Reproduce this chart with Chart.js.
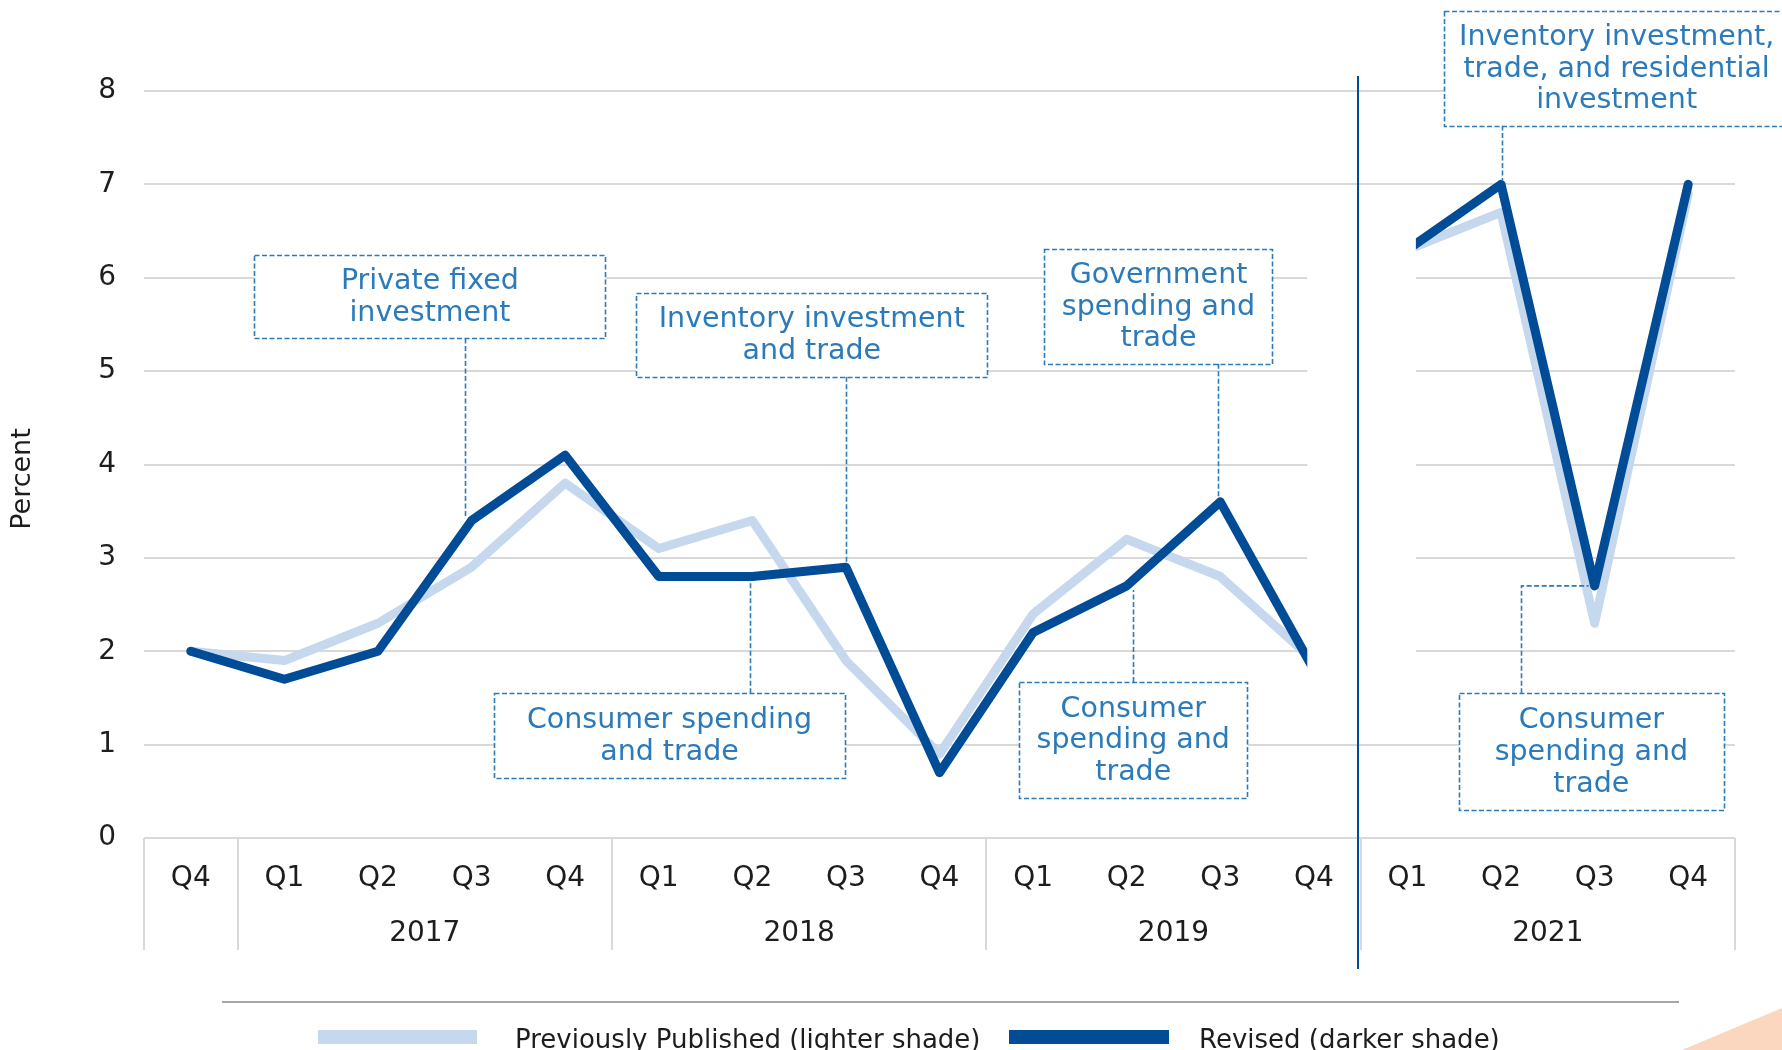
<!DOCTYPE html>
<html>
<head>
<meta charset="utf-8">
<title>Real GDP growth: previously published vs. revised</title>
<script src="https://cdn.jsdelivr.net/npm/chart.js@4.4.1/dist/chart.umd.min.js"></script>
<style>
  html, body { margin: 0; padding: 0; background: #ffffff; }
  #wrap { width: 1782px; height: 1050px; position: relative; overflow: hidden; }
  canvas { display: block; }
</style>
</head>
<body>
<div id="wrap"><canvas id="gdp" width="1782" height="1050"></canvas></div>
<script>
// ---- data -------------------------------------------------------------
const quarterLabels = ['Q4', 'Q1', 'Q2', 'Q3', 'Q4', 'Q1', 'Q2', 'Q3', 'Q4',
                       'Q1', 'Q2', 'Q3', 'Q4', 'Q1', 'Q2', 'Q3', 'Q4'];
const yearLabels     = ['', '2017', '2018', '2019', '2021'];
const yearFirstIndex = [0, 1, 5, 9, 13];
const yearLastIndex  = [0, 4, 8, 12, 16];

const previouslyPublished = [2.0, 1.9, 2.3, 2.9, 3.8, 3.1, 3.4, 1.9, 0.9,
                             2.4, 3.2, 2.8, 1.9, 6.3, 6.7, 2.3, 6.9];
const revised             = [2.0, 1.7, 2.0, 3.4, 4.1, 2.8, 2.8, 2.9, 0.7,
                             2.2, 2.7, 3.6, 1.8, 6.3, 7.0, 2.7, 7.0];

// 2020 is left out: the series break after this index (2019 Q4)
const breakAfterIndex = 12;

const legendLabels = ['Previously Published (lighter shade)', 'Revised (darker shade)'];

// Callouts naming the main source of each revision; box = [xFrom, xTo, yTop, yBottom]
// in category / percent units, point = index of the revised value the leader points at.
const callouts = [
  { lines: ['Private fixed', 'investment'],                       box: [0.68, 4.43, 6.24, 5.35], leaderX: 2.925, point: 3 },
  { lines: ['Inventory investment', 'and trade'],                 box: [4.76, 8.51, 5.84, 4.94], leaderX: 7.0,   point: 7 },
  { lines: ['Government', 'spending and', 'trade'],               box: [9.12, 11.56, 6.31, 5.08], leaderX: 10.98, point: 11 },
  { lines: ['Consumer spending', 'and trade'],                    box: [3.24, 6.99, 1.55, 0.64], leaderX: 5.97,  point: 6 },
  { lines: ['Consumer', 'spending and', 'trade'],                 box: [8.85, 11.29, 1.67, 0.43], leaderX: 10.07, point: 10 },
  { lines: ['Inventory investment,', 'trade, and residential', 'investment'], box: [13.39, 17.08, 8.86, 7.63], leaderX: 14.01, point: 14 },
  { lines: ['Consumer', 'spending and', 'trade'],                 box: [13.55, 16.38, 1.55, 0.30], leaderX: 14.21, point: 15, elbow: true }
];

// ---- styles -----------------------------------------------------------
const FONT = "'DejaVu Sans', 'Noto Sans', sans-serif";
const TEXT = '#1d1d1d';
const DARK = '#004c97';
const LIGHT = '#c5d8ee';
const CALLOUT = '#2b7bba';
const GRID = '#d9d9d9';

Chart.defaults.font.family = FONT;
Chart.defaults.color = TEXT;

// White panel over the omitted 2020 stretch, drawn over the series
const breakPanel = {
  id: 'breakPanel',
  afterDatasetsDraw(chart) {
    const { ctx, scales: { x, y } } = chart;
    const l = x.getPixelForValue(breakAfterIndex - 0.07);
    const r = x.getPixelForValue(breakAfterIndex + 1.09);
    const t = y.getPixelForValue(6.85);
    const b = y.getPixelForValue(1.3);
    ctx.save();
    ctx.fillStyle = '#ffffff';
    ctx.fillRect(l, t, r - l, b - t);
    ctx.restore();
  }
};

// Year groups, separators, callouts, axis title and legend
const decorations = {
  id: 'decorations',
  beforeDraw(chart) {
    const { ctx, width, height } = chart;
    ctx.save();
    ctx.fillStyle = '#fad7be';
    ctx.beginPath();
    ctx.moveTo(width - 100, height);
    ctx.lineTo(width, height - 42);
    ctx.lineTo(width, height);
    ctx.closePath();
    ctx.fill();
    ctx.restore();
  },
  afterDraw(chart) {
    const { ctx, chartArea, scales: { x, y } } = chart;
    const base = chartArea.bottom;

    ctx.save();
    // group separators below the axis
    ctx.strokeStyle = GRID;
    ctx.lineWidth = 2;
    const bounds = [yearFirstIndex[0] - 0.5].concat(yearLastIndex.map(i => i + 0.5));
    bounds.forEach(b => {
      const px = Math.round(x.getPixelForValue(b));
      ctx.beginPath();
      ctx.moveTo(px, base);
      ctx.lineTo(px, base + 112);
      ctx.stroke();
    });

    // year labels
    ctx.fillStyle = TEXT;
    ctx.font = '28px ' + FONT;
    ctx.textAlign = 'center';
    ctx.textBaseline = 'middle';
    yearLabels.forEach((lab, k) => {
      if (!lab) return;
      const cx = (x.getPixelForValue(yearFirstIndex[k]) + x.getPixelForValue(yearLastIndex[k])) / 2;
      ctx.fillText(lab, cx, base + 96);
    });

    // break marker between 2019 and 2021
    const bx = Math.round(x.getPixelForValue(breakAfterIndex + 0.5)) - 3;
    ctx.strokeStyle = DARK;
    ctx.lineWidth = 2;
    ctx.beginPath();
    ctx.moveTo(bx, y.getPixelForValue(8) - 15);
    ctx.lineTo(bx, base + 131);
    ctx.stroke();

    // callouts
    callouts.forEach(c => {
      const left = x.getPixelForValue(c.box[0]);
      const right = x.getPixelForValue(c.box[1]);
      const top = y.getPixelForValue(c.box[2]);
      const bottom = y.getPixelForValue(c.box[3]);
      const lx = Math.round(x.getPixelForValue(c.leaderX)) + 0.5;
      const py = y.getPixelForValue(revised[c.point]);

      ctx.strokeStyle = CALLOUT;
      ctx.lineWidth = 1.6;
      ctx.setLineDash([5, 2.5]);
      ctx.beginPath();
      if (c.elbow) {
        ctx.moveTo(lx, top);
        ctx.lineTo(lx, py);
        ctx.lineTo(x.getPixelForValue(c.point) - 6, py);
      } else if (py > bottom) {
        ctx.moveTo(lx, bottom);
        ctx.lineTo(lx, py - 4);
      } else {
        ctx.moveTo(lx, top);
        ctx.lineTo(lx, py + 4);
      }
      ctx.stroke();

      ctx.fillStyle = '#ffffff';
      ctx.fillRect(left, top, right - left, bottom - top);
      ctx.strokeRect(Math.round(left) + 0.5, Math.round(top) + 0.5,
                     Math.round(right - left), Math.round(bottom - top));
      ctx.setLineDash([]);

      ctx.fillStyle = CALLOUT;
      ctx.font = '28.5px ' + FONT;
      ctx.textAlign = 'center';
      ctx.textBaseline = 'middle';
      const lh = 31.7;
      const cx = (left + right) / 2;
      const cy = (top + bottom) / 2;
      c.lines.forEach((ln, k) => {
        ctx.fillText(ln, cx, cy + (k - (c.lines.length - 1) / 2) * lh + 1);
      });
    });

    // y-axis title
    ctx.fillStyle = TEXT;
    ctx.font = '27px ' + FONT;
    ctx.translate(23, 479);
    ctx.rotate(-Math.PI / 2);
    ctx.textAlign = 'center';
    ctx.textBaseline = 'middle';
    ctx.fillText('Percent', 0, 0);
    ctx.setTransform(1, 0, 0, 1, 0, 0);

    // legend
    ctx.strokeStyle = '#a6a6a6';
    ctx.lineWidth = 2;
    ctx.beginPath();
    ctx.moveTo(222, 1002);
    ctx.lineTo(1679, 1002);
    ctx.stroke();

    ctx.font = '26px ' + FONT;
    ctx.textAlign = 'left';
    ctx.textBaseline = 'alphabetic';
    const items = [
      { color: LIGHT, x0: 318, x1: 477, tx: 515, label: legendLabels[0] },
      { color: DARK,  x0: 1009, x1: 1169, tx: 1199, label: legendLabels[1] }
    ];
    items.forEach(it => {
      ctx.fillStyle = it.color;
      ctx.fillRect(it.x0, 1030, it.x1 - it.x0, 14);
      ctx.fillStyle = TEXT;
      ctx.fillText(it.label, it.tx, 1048);
    });
    ctx.restore();
  }
};

const hideBreak = ctx => (ctx.p0DataIndex === breakAfterIndex ? 'rgba(0,0,0,0)' : undefined);

new Chart(document.getElementById('gdp'), {
  type: 'line',
  data: {
    labels: quarterLabels,
    datasets: [
      {
        label: legendLabels[0],
        data: previouslyPublished,
        borderColor: LIGHT,
        borderWidth: 9,
        order: 2,
        segment: { borderColor: hideBreak }
      },
      {
        label: legendLabels[1],
        data: revised,
        borderColor: DARK,
        borderWidth: 9,
        order: 1,
        segment: { borderColor: hideBreak }
      }
    ]
  },
  options: {
    responsive: false,
    animation: false,
    devicePixelRatio: 1,
    layout: { padding: { top: 91, right: 47, bottom: 0, left: 0 } },
    elements: {
      point: { radius: 0, hoverRadius: 0 },
      line: { tension: 0, borderCapStyle: 'round', borderJoinStyle: 'round', fill: false }
    },
    plugins: {
      legend: { display: false },
      tooltip: { enabled: false },
      title: { display: false }
    },
    scales: {
      x: {
        type: 'category',
        offset: true,
        grid: { display: false },
        border: { display: false },
        ticks: {
          autoSkip: false,
          maxRotation: 0,
          padding: 16,
          color: TEXT,
          font: { size: 28, family: FONT }
        },
        afterFit(scale) { scale.height = 212; }
      },
      y: {
        min: 0,
        max: 8,
        grid: { color: GRID, lineWidth: 2, drawTicks: false },
        border: { display: false },
        ticks: {
          stepSize: 1,
          padding: 28,
          color: TEXT,
          font: { size: 28, family: FONT }
        },
        afterFit(scale) { scale.width = 144; }
      }
    }
  },
  plugins: [breakPanel, decorations]
});
</script>
</body>
</html>
